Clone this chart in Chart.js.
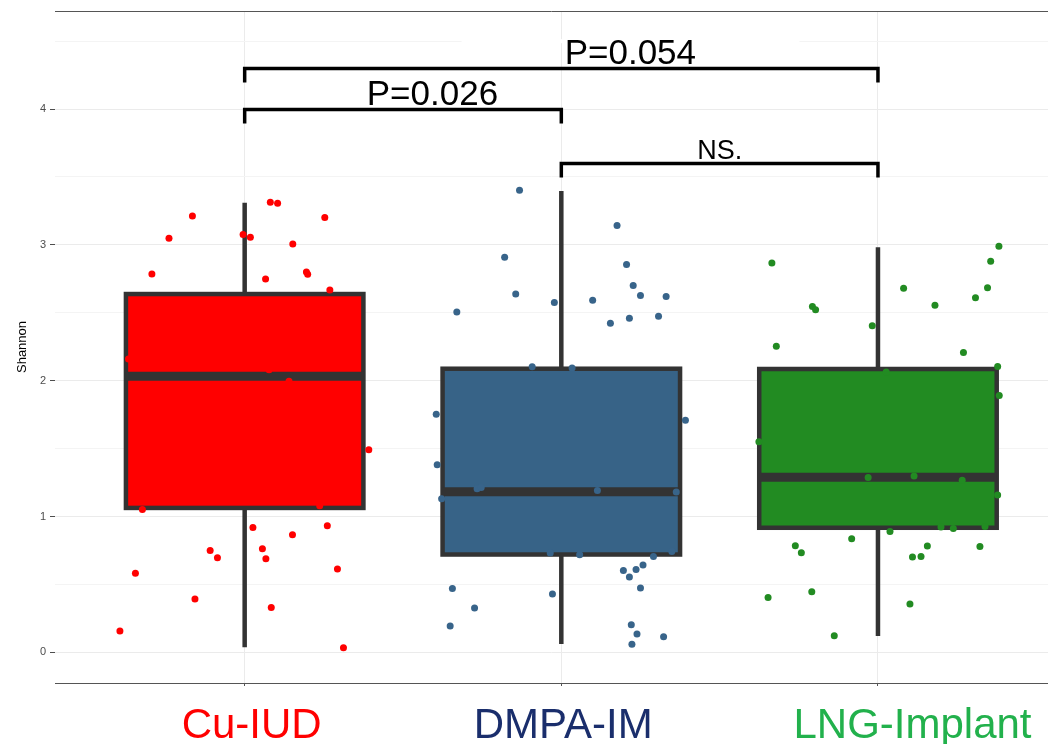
<!DOCTYPE html>
<html>
<head>
<meta charset="utf-8">
<style>
  body { margin: 0; background: #fff; }
  #chart { display: block; }
</style>
<script src="https://cdn.jsdelivr.net/npm/chart.js"></script>
</head>
<body>
<canvas id="chart" width="1048" height="744"></canvas>
<script>
// categories and label colours
var categories = ['Cu-IUD', 'DMPA-IM', 'LNG-Implant'];
var labelColors = ['#ff0000', '#1a2e6c', '#22b14c'];
var labelPos = [1.022, 2.006, 3.109];

// box statistics (Shannon)
var whiskerLow = [0.037, 0.061, 0.120];
var q1 = [1.063, 0.720, 0.917];
var median = [2.032, 1.183, 1.289];
var q3 = [2.638, 2.088, 2.086];
var whiskerHigh = [3.311, 3.397, 2.982];
var boxFill = ['#ff0000', '#376387', '#228b22'];

// jittered points
var cuX = [0.835, 0.761, 0.707, 0.995, 1.018, 1.081, 1.104, 1.253, 1.152, 1.195, 1.199, 1.066, 1.269, 0.633, 1.077, 1.140,
           1.392, 0.677, 1.237, 1.026, 1.261, 1.151, 0.891, 0.914, 1.056, 1.067, 0.655, 1.293, 0.843, 1.084, 0.606, 1.312];
var cuY = [3.213, 3.048, 2.786, 3.076, 3.056, 3.313, 3.306, 3.201, 3.007, 2.801, 2.783, 2.749, 2.668, 2.160, 2.081, 1.995,
           1.492, 1.052, 1.079, 0.919, 0.932, 0.866, 0.750, 0.696, 0.762, 0.689, 0.583, 0.613, 0.392, 0.330, 0.156, 0.033];

var dmpaX = [1.868, 2.176, 1.821, 2.206, 1.856, 2.227, 2.250, 2.331, 1.978, 2.099, 1.670, 2.155, 2.215, 2.307, 1.908, 2.034,
             1.605, 2.392, 1.608, 1.734, 1.747, 1.622, 2.114, 2.363, 1.965, 2.058, 2.291, 2.349, 2.196, 2.236, 2.258, 2.215,
             2.250, 1.656, 1.972, 1.726, 1.649, 2.221, 2.239, 2.223, 2.323];
var dmpaY = [3.402, 3.142, 2.908, 2.855, 2.639, 2.700, 2.628, 2.619, 2.575, 2.592, 2.506, 2.422, 2.459, 2.474, 2.103, 2.094,
             1.752, 1.708, 1.381, 1.204, 1.214, 1.131, 1.192, 1.180, 0.731, 0.718, 0.706, 0.743, 0.603, 0.610, 0.642, 0.554,
             0.473, 0.470, 0.429, 0.326, 0.193, 0.203, 0.134, 0.060, 0.114];

var lngX = [3.382, 3.356, 2.665, 3.346, 3.081, 3.308, 2.793, 2.803, 3.180, 2.982, 2.679, 3.270, 3.378, 3.026, 3.383, 2.624,
            2.969, 3.114, 3.266, 3.378, 3.199, 3.238, 3.338, 3.038, 2.917, 2.739, 2.758, 3.156, 3.109, 3.136, 3.322, 2.791,
            2.653, 3.101, 2.862];
var lngY = [2.989, 2.879, 2.867, 2.685, 2.680, 2.611, 2.547, 2.523, 2.555, 2.405, 2.253, 2.208, 2.105, 2.064, 1.890, 1.551,
            1.288, 1.298, 1.266, 1.158, 0.922, 0.912, 0.927, 0.890, 0.836, 0.785, 0.733, 0.782, 0.701, 0.706, 0.779, 0.446,
            0.404, 0.355, 0.122];

// significance brackets
var bracketFrom = [1, 1, 2];
var bracketTo = [3, 2, 3];
var bracketY = [4.298, 3.996, 3.599];
var bracketText = ['P=0.054', 'P=0.026', 'NS.'];
var bracketTextX = [2.218, 1.593, 2.5];
var bracketFont = [35, 35, 27];

var yTicks = [0, 0.5, 1, 1.5, 2, 2.5, 3, 3.5, 4, 4.5];

var FONT = "'Liberation Sans', Arial, sans-serif";

function pts(xs, ys) {
    return xs.map(function(v, i) { return { x: v, y: ys[i] }; });
}

var boxPlugin = {
    id: 'boxes',
    beforeDatasetsDraw: function(chart) {
        var ctx = chart.ctx, x = chart.scales.x, y = chart.scales.y;
        ctx.save();
        // pasted label patch over the 4.5 gridline
        ctx.fillStyle = '#ffffff';
        ctx.fillRect(x.getPixelForValue(1.685), y.getPixelForValue(4.5) - 2,
                     x.getPixelForValue(2.752) - x.getPixelForValue(1.685), 4);
        categories.forEach(function(c, i) {
            var cx = x.getPixelForValue(i + 1);
            var left = x.getPixelForValue(i + 1 - 0.375);
            var right = x.getPixelForValue(i + 1 + 0.375);
            ctx.strokeStyle = '#333333';
            ctx.lineWidth = 4.5;
            ctx.beginPath();
            ctx.moveTo(cx, y.getPixelForValue(whiskerHigh[i]));
            ctx.lineTo(cx, y.getPixelForValue(whiskerLow[i]));
            ctx.stroke();
            var top = y.getPixelForValue(q3[i]), bot = y.getPixelForValue(q1[i]);
            ctx.fillStyle = boxFill[i];
            ctx.fillRect(left, top, right - left, bot - top);
            ctx.strokeRect(left, top, right - left, bot - top);
            ctx.lineWidth = 9;
            ctx.beginPath();
            ctx.moveTo(left, y.getPixelForValue(median[i]));
            ctx.lineTo(right, y.getPixelForValue(median[i]));
            ctx.stroke();
        });
        ctx.restore();
    },
    afterDatasetsDraw: function(chart) {
        var ctx = chart.ctx, x = chart.scales.x, y = chart.scales.y, area = chart.chartArea;
        ctx.save();
        // brackets
        ctx.strokeStyle = '#000000';
        ctx.lineWidth = 3.5;
        ctx.lineJoin = 'miter';
        bracketY.forEach(function(v, i) {
            var yp = y.getPixelForValue(v);
            var x0 = x.getPixelForValue(bracketFrom[i]), x1 = x.getPixelForValue(bracketTo[i]);
            ctx.beginPath();
            ctx.moveTo(x0, yp + 14);
            ctx.lineTo(x0, yp);
            ctx.lineTo(x1, yp);
            ctx.lineTo(x1, yp + 14);
            ctx.stroke();
            ctx.fillStyle = '#000000';
            ctx.font = bracketFont[i] + 'px ' + FONT;
            ctx.textAlign = 'center';
            ctx.textBaseline = 'alphabetic';
            ctx.fillText(bracketText[i], x.getPixelForValue(bracketTextX[i]), yp - 5);
        });
        // category labels
        ctx.font = '42px ' + FONT;
        ctx.textAlign = 'center';
        ctx.textBaseline = 'alphabetic';
        categories.forEach(function(c, i) {
            ctx.fillStyle = labelColors[i];
            ctx.fillText(c, x.getPixelForValue(labelPos[i]), area.bottom + 55);
        });
        // top frame line
        ctx.strokeStyle = '#555555';
        ctx.lineWidth = 1;
        ctx.beginPath();
        ctx.moveTo(area.left, area.top + 0.5);
        ctx.lineTo(area.right, area.top + 0.5);
        ctx.stroke();
        ctx.restore();
    }
};

var chart = new Chart(document.getElementById('chart').getContext('2d'), {
    type: 'scatter',
    data: {
        datasets: [
            { label: 'Cu-IUD', data: pts(cuX, cuY), backgroundColor: '#ff0000' },
            { label: 'DMPA-IM', data: pts(dmpaX, dmpaY), backgroundColor: '#38648a' },
            { label: 'LNG-Implant', data: pts(lngX, lngY), backgroundColor: '#228b22' }
        ]
    },
    options: {
        responsive: false,
        animation: false,
        devicePixelRatio: 1,
        layout: { autoPadding: false, padding: { top: 11, right: 0, left: 0, bottom: 0 } },
        elements: { point: { radius: 3.5, borderWidth: 0, hoverRadius: 3.5 } },
        plugins: { legend: { display: false }, tooltip: { enabled: false } },
        scales: {
            x: {
                type: 'linear',
                min: 0.401,
                max: 3.537,
                afterBuildTicks: function(s) { s.ticks = [1, 2, 3].map(function(v) { return { value: v }; }); },
                afterFit: function(s) { s.height = 61; },
                ticks: { display: false },
                grid: { color: '#ebebeb', tickColor: '#555555', tickLength: 3, lineWidth: 1 },
                border: { color: '#555555', width: 1 }
            },
            y: {
                min: -0.226,
                max: 4.722,
                afterBuildTicks: function(s) { s.ticks = yTicks.map(function(v) { return { value: v }; }); },
                afterFit: function(s) { s.width = 55; },
                ticks: {
                    callback: function(v) { return Number.isInteger(v) ? String(v) : ''; },
                    color: '#4d4d4d',
                    font: { size: 11, family: FONT },
                    padding: 4
                },
                grid: {
                    color: function(c) { return c.tick && Number.isInteger(c.tick.value) ? '#ebebeb' : '#f4f4f4'; },
                    tickColor: function(c) { return c.tick && Number.isInteger(c.tick.value) ? '#4d4d4d' : 'rgba(0,0,0,0)'; },
                    tickLength: 5,
                    lineWidth: 1
                },
                border: { display: false },
                title: {
                    display: true,
                    text: 'Shannon',
                    color: '#000000',
                    font: { size: 13, family: FONT },
                    padding: { top: 15, bottom: 0 }
                }
            }
        }
    },
    plugins: [boxPlugin]
});
</script>
</body>
</html>
